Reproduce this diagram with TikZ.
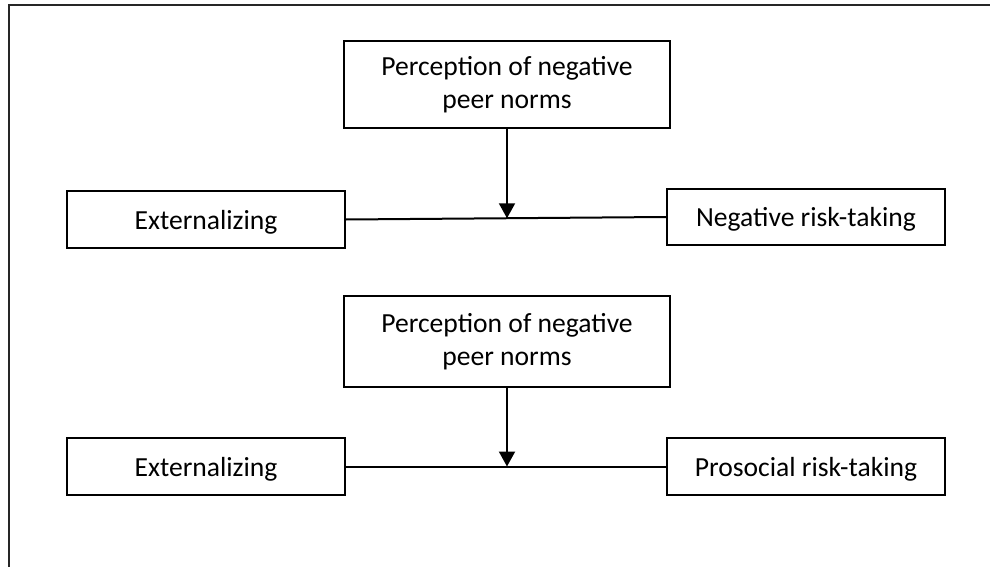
\documentclass[tikz,border=0pt]{standalone}
\usepackage{fontspec}
\setmainfont{Carlito}
\usetikzlibrary{arrows.meta}
\begin{document}
\begin{tikzpicture}[x=0.5pt,y=-0.5pt,
  box/.style={draw=black,line width=1pt,align=center,inner sep=0pt,
    font=\fontsize{13.8}{16.3}\selectfont,minimum width=139pt},
  single/.style={box,text height=9.7pt,text depth=0pt},
  conn/.style={line width=1pt,draw=black},
  arr/.style={conn,-{Triangle[width=8pt,length=7.5pt]}},
  frameline/.style={draw=black!85,line width=0.8pt}]
\useasboundingbox (0,0) rectangle (990,567);
\coordinate (fbl) at (9,567);
\coordinate (ftl) at (9,5);
\coordinate (ftr) at (990,5);
\draw[frameline] (fbl) -- (ftl) -- (ftr);

\node[box,minimum width=163pt,minimum height=43.5pt] (p1) at (507,84.5) {Perception of negative\\peer norms};
\node[single,minimum height=28.5pt] (e1) at (206,219.5) {Externalizing};
\node[single,minimum height=28pt] (n1) at (806,217) {Negative risk-taking};
\draw[conn] (e1.east) -- coordinate[pos=0.5] (m1) (n1.west);
\draw[arr] (p1.south) -- (p1.south |- m1);

\node[box,minimum width=163pt,minimum height=45.5pt] (p2) at (507,341.5) {Perception of negative\\peer norms};
\node[single,minimum height=28.5pt] (e2) at (206,466.5) {Externalizing};
\node[single,minimum height=28.5pt] (n2) at (806,466.5) {Prosocial risk-taking};
\draw[conn] (e2.east) -- coordinate[pos=0.5] (m2) (n2.west);
\draw[arr] (p2.south) -- (p2.south |- m2);
\end{tikzpicture}
\end{document}
